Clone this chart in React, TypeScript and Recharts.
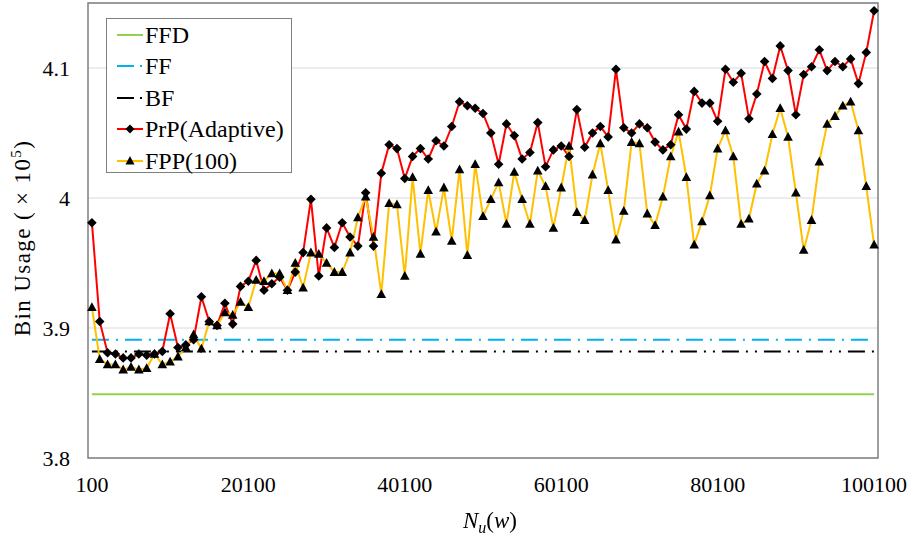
import React from 'react'
import { LineChart, Line, XAxis, YAxis, CartesianGrid, ReferenceLine, ReferenceArea, Legend } from 'recharts'

// N_u(w): 100, 1100, ..., 100100
const nValues = Array.from({ length: 101 }, (_, i) => 100 + i * 1000)

const prpAdaptive = [
  3.981, 3.905, 3.881, 3.88, 3.877, 3.877, 3.88, 3.879, 3.88, 3.882,
  3.911, 3.885, 3.887, 3.891, 3.924, 3.905, 3.902, 3.919, 3.903, 3.932,
  3.936, 3.952, 3.929, 3.934, 3.939, 3.929, 3.943, 3.958, 3.999, 3.94,
  3.977, 3.962, 3.981, 3.97, 3.963, 4.004, 3.963, 4.019, 4.041, 4.038,
  4.015, 4.032, 4.038, 4.03, 4.044, 4.04, 4.055, 4.074, 4.071, 4.069,
  4.065, 4.05, 4.026, 4.057, 4.048, 4.03, 4.035, 4.058, 4.024, 4.037,
  4.04, 4.032, 4.068, 4.039, 4.05, 4.055, 4.047, 4.099, 4.054, 4.05,
  4.057, 4.054, 4.043, 4.037, 4.041, 4.064, 4.053, 4.082, 4.073, 4.073,
  4.059, 4.099, 4.089, 4.096, 4.061, 4.08, 4.105, 4.092, 4.117, 4.098,
  4.064, 4.095, 4.101, 4.114, 4.098, 4.105, 4.101, 4.107, 4.088, 4.112,
  4.144,
]

const fpp100 = [
  3.916, 3.876, 3.872, 3.872, 3.868, 3.87, 3.868, 3.869, 3.88, 3.872,
  3.874, 3.878, 3.885, 3.895, 3.884, 3.905, 3.902, 3.912, 3.91, 3.92,
  3.916, 3.937, 3.936, 3.942, 3.942, 3.929, 3.95, 3.931, 3.958, 3.957,
  3.95, 3.943, 3.943, 3.958, 3.985, 4.001, 3.97, 3.926, 3.996, 3.995,
  3.94, 4.016, 3.957, 4.006, 3.974, 4.008, 3.967, 4.022, 3.956, 4.026,
  3.986, 3.999, 4.012, 3.98, 4.02, 3.999, 3.98, 4.021, 4.009, 3.977,
  4.008, 4.04, 3.989, 3.983, 4.018, 4.042, 4.006, 3.968, 3.99, 4.043,
  4.042, 3.988, 3.979, 4.001, 4.032, 4.051, 4.016, 3.964, 3.982, 4.002,
  4.038, 4.052, 4.032, 3.98, 3.984, 4.011, 4.021, 4.049, 4.069, 4.047,
  4.004, 3.96, 3.983, 4.028, 4.057, 4.063, 4.071, 4.074, 4.052, 4.009,
  3.964,
]

// constant baselines
const ffdValue = 3.849
const ffValue = 3.891
const bfValue = 3.882

const xTicks = [100, 20100, 40100, 60100, 80100, 100100]
const yTicks = [3.8, 3.9, 4, 4.1]

const FONT = '"Liberation Serif", "DejaVu Serif", serif'
const FF_DASH = '17 7 2 7'
const BF_DASH = '17 7 2 7 2 7'

const chartData = nValues.map((n, i) => ({ n, prp: prpAdaptive[i], fpp: fpp100[i] }))

function diamond(props: any) {
  const { cx, cy, index } = props
  if (cx == null || cy == null) return <g key={index} />
  return <path key={index} d={`M${cx},${cy - 4.8}L${cx + 4.8},${cy}L${cx},${cy + 4.8}L${cx - 4.8},${cy}Z`} fill="#000" />
}

function triangle(props: any) {
  const { cx, cy, index } = props
  if (cx == null || cy == null) return <g key={index} />
  return <path key={index} d={`M${cx},${cy - 5}L${cx + 4.8},${cy + 3.8}L${cx - 4.8},${cy + 3.8}Z`} fill="#000" />
}

const legendItems = [
  { name: 'FFD', color: '#92d050', dash: undefined, marker: null },
  { name: 'FF', color: '#00b0f0', dash: FF_DASH, marker: null },
  { name: 'BF', color: '#000000', dash: BF_DASH, marker: null },
  { name: 'PrP(Adaptive)', color: '#ff0000', dash: undefined, marker: 'diamond' },
  { name: 'FPP(100)', color: '#ffc000', dash: undefined, marker: 'triangle' },
]

function LegendBox() {
  return (
    <div
      style={{
        width: 186,
        height: 155,
        boxSizing: 'border-box',
        border: '1px solid #7f7f7f',
        background: '#fff',
        fontFamily: FONT,
      }}
    >
      {legendItems.map((it) => (
        <div key={it.name} style={{ display: 'flex', alignItems: 'center', height: 31.5 }}>
          <svg width={38} height={20} style={{ flex: 'none' }}>
            {it.dash ? (
              <>
                <line x1={10} x2={27} y1={10} y2={10} stroke={it.color} strokeWidth={2} />
                <line x1={33} x2={35} y1={10} y2={10} stroke={it.color} strokeWidth={2} />
              </>
            ) : (
              <line x1={10} x2={36} y1={10} y2={10} stroke={it.color} strokeWidth={2} />
            )}
            {it.marker === 'diamond' && <path d="M23,5.5L27.5,10L23,14.5L18.5,10Z" fill="#000" />}
            {it.marker === 'triangle' && <path d="M23,5L27.5,13.5L18.5,13.5Z" fill="#000" />}
          </svg>
          <span style={{ fontSize: 24, color: '#000', lineHeight: 1 }}>{it.name}</span>
        </div>
      ))}
    </div>
  )
}

export default function App() {
  return (
    <div style={{ position: 'fixed', left: 0, top: 0, width: 915, height: 536, background: '#fff', fontFamily: FONT }}>
      <LineChart width={915} height={536} data={chartData} margin={{ top: 3, right: 37, bottom: 0, left: 0 }}>
        <CartesianGrid vertical={false} stroke="#d9d9d9" />
        <XAxis
          dataKey="n"
          type="number"
          domain={[-400, 100600]}
          ticks={xTicks}
          interval={0}
          tickLine={false}
          axisLine={false}
          height={78}
          tickMargin={12}
          tick={{ fontSize: 22, fill: '#000', fontFamily: FONT }}
        />
        <YAxis
          type="number"
          domain={[3.8, 4.15]}
          ticks={yTicks}
          interval={0}
          allowDataOverflow
          tickLine={false}
          axisLine={false}
          width={88}
          tickMargin={12}
          tick={{ fontSize: 22, fill: '#000', fontFamily: FONT }}
        />
        <ReferenceArea x1={-400} x2={100600} y1={3.8} y2={4.15} fill="none" stroke="#7f7f7f" strokeWidth={1.5} ifOverflow="visible" />
        <ReferenceLine segment={[{ x: 100, y: ffdValue }, { x: 100100, y: ffdValue }]} stroke="#92d050" strokeWidth={2} />
        <ReferenceLine segment={[{ x: 100, y: ffValue }, { x: 100100, y: ffValue }]} stroke="#00b0f0" strokeWidth={2} strokeDasharray={FF_DASH} />
        <ReferenceLine segment={[{ x: 100, y: bfValue }, { x: 100100, y: bfValue }]} stroke="#000" strokeWidth={2} strokeDasharray={BF_DASH} />
        <Line dataKey="prp" name="PrP(Adaptive)" stroke="#ff0000" strokeWidth={2} dot={diamond} activeDot={false} isAnimationActive={false} />
        <Line dataKey="fpp" name="FPP(100)" stroke="#ffc000" strokeWidth={2} dot={triangle} activeDot={false} isAnimationActive={false} />
        <Legend
          layout="vertical"
          align="center"
          verticalAlign="middle"
          content={() => <LegendBox />}
          wrapperStyle={{ position: 'absolute', left: 106, top: 18, width: 186, height: 155 }}
        />
      </LineChart>
      <div
        style={{
          position: 'absolute',
          left: 22,
          top: 238,
          transform: 'translate(-50%, -50%) rotate(-90deg)',
          whiteSpace: 'nowrap',
          fontSize: 23,
          letterSpacing: 1.4,
          lineHeight: 1,
          color: '#000',
        }}
      >
        Bin Usage (&thinsp;× 10<sup style={{ fontSize: 15, lineHeight: 0 }}>5</sup>)
      </div>
      <div
        style={{
          position: 'absolute',
          left: 490,
          top: 520,
          transform: 'translate(-50%, -50%)',
          whiteSpace: 'nowrap',
          fontSize: 23,
          lineHeight: 1,
          color: '#000',
        }}
      >
        <i>N</i>
        <sub style={{ fontSize: 16, lineHeight: 0 }}>
          <i>u</i>
        </sub>
        (<i>w</i>)
      </div>
    </div>
  )
}
